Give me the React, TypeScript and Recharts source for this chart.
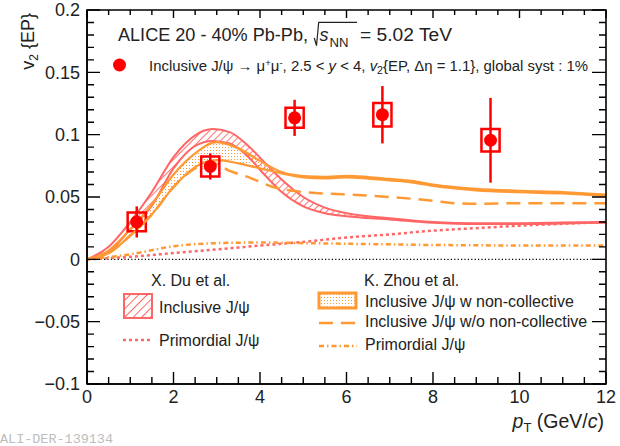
import React from 'react';
import {
  ComposedChart,
  Line,
  Area,
  Scatter,
  ErrorBar,
  XAxis,
  YAxis,
  ReferenceArea,
  ReferenceLine,
} from 'recharts';

const RED = '#ff6666';
const ORANGE = '#ff9933';
const POINT_RED = '#ff0000';
const AXIS = '#000000';
const FONT = '"Liberation Sans", Arial, Helvetica, sans-serif';

// ALICE inclusive J/psi v2{EP}, 20-40%
const dataPt = [1.15, 2.85, 4.8, 6.83, 9.33];
const dataV2 = [0.03, 0.0745, 0.1135, 0.116, 0.0955];
const dataStat = [0.0125, 0.0105, 0.0145, 0.023, 0.034];
const dataSyst = [0.0075, 0.008, 0.008, 0.0095, 0.009];
const systHalfWidth = 0.21;

// X. Du et al., inclusive band
const duPt = [0, 0.5, 1, 1.5, 2, 2.5, 2.9, 3.3, 3.7, 4.1, 4.5, 5, 5.5, 6, 7, 8, 9, 10, 11, 12];
const duHi = [0, 0.01, 0.03, 0.054, 0.082, 0.0995, 0.1045, 0.102, 0.092, 0.078, 0.064, 0.05, 0.0415, 0.037, 0.033, 0.03, 0.029, 0.029, 0.0295, 0.03];
const duLo = [0, 0.006, 0.024, 0.043, 0.073, 0.091, 0.095, 0.093, 0.083, 0.068, 0.054, 0.0425, 0.037, 0.0345, 0.032, 0.0293, 0.0283, 0.0283, 0.0288, 0.0293];

// primordial curves (both models)
const primPt = [0, 1, 2, 3, 4, 5, 6, 7, 8, 9, 10, 11, 12];
const duPrim = [0, 0.002, 0.005, 0.008, 0.011, 0.014, 0.0175, 0.02, 0.023, 0.025, 0.027, 0.0285, 0.03];
const zhouPrim = [0, 0.004, 0.0105, 0.013, 0.0135, 0.013, 0.0125, 0.012, 0.0115, 0.0113, 0.011, 0.011, 0.011];

// K. Zhou et al., w non-collective band
const zPt = [0, 0.5, 1, 1.5, 2, 2.5, 3, 3.5, 4, 4.5, 5, 5.5, 6, 6.5, 7, 7.5, 8, 8.5, 9, 10, 11, 12];
const zHi = [0, 0.007, 0.024, 0.044, 0.068, 0.085, 0.094, 0.089, 0.079, 0.07, 0.0668, 0.0662, 0.067, 0.066, 0.0645, 0.063, 0.06, 0.058, 0.0565, 0.055, 0.054, 0.052];
const zLo = [0, 0.005, 0.019, 0.036, 0.058, 0.074, 0.0795, 0.077, 0.073, 0.069, 0.0658, 0.065, 0.0658, 0.0648, 0.0633, 0.0618, 0.0588, 0.0568, 0.0553, 0.0538, 0.0528, 0.0508];

// K. Zhou et al., w/o non-collective
const dPt = [0, 0.5, 1, 1.5, 2, 2.5, 2.9, 3.3, 3.8, 4.3, 5, 6, 7, 8, 8.5, 9, 10, 12];
const dV2 = [0, 0.005, 0.019, 0.036, 0.058, 0.073, 0.077, 0.071, 0.065, 0.058, 0.054, 0.052, 0.05, 0.047, 0.045, 0.0445, 0.045, 0.045];

// axis ticks
const X_DOMAIN = [0, 12];
const Y_DOMAIN = [-0.1, 0.2];
const xMajor = [0, 2, 4, 6, 8, 10, 12];
const xMinor = Array.from({ length: 25 }, (_, i) => i * 0.5);
const yMajor = [-0.1, -0.05, 0, 0.05, 0.1, 0.15, 0.2];
const yMinor = Array.from({ length: 31 }, (_, i) => (i - 10) / 100);

// layout
const W = 620;
const H = 446;
const MARGIN = { top: 10, right: 14, bottom: 0, left: 0 };
const Y_AXIS_W = 87;
const X_AXIS_H = 62;
const PLOT_LEFT = MARGIN.left + Y_AXIS_W;
const PLOT_RIGHT = W - MARGIN.right;
const PLOT_TOP = MARGIN.top;
const PLOT_BOTTOM = H - MARGIN.bottom - X_AXIS_H;

const points = dataPt.map((pt, i) => ({ pt, v2: dataV2[i], stat: dataStat[i] }));
const duBand = duPt.map((pt, i) => ({ pt, range: [duLo[i], duHi[i]] }));
const zBand = zPt.map((pt, i) => ({ pt, range: [zLo[i], zHi[i]] }));
const zDash = dPt.map((pt, i) => ({ pt, v2: dV2[i] }));
const duPrimData = primPt.map((pt, i) => ({ pt, v2: duPrim[i] }));
const zPrimData = primPt.map((pt, i) => ({ pt, v2: zhouPrim[i] }));

const isMaj = (list: number[], t: number) => list.some((m) => Math.abs(m - t) < 1e-9);
const fmtY = (v: number) => (v < 0 ? '\u2212' + String(-v) : String(v));

// same linear map as the chart axes, for the frame tick marks
const xPix = (v: number) => PLOT_LEFT + ((v - X_DOMAIN[0]) / (X_DOMAIN[1] - X_DOMAIN[0])) * (PLOT_RIGHT - PLOT_LEFT);
const yPix = (v: number) => PLOT_BOTTOM - ((v - Y_DOMAIN[0]) / (Y_DOMAIN[1] - Y_DOMAIN[0])) * (PLOT_BOTTOM - PLOT_TOP);

const tickSegs: { x1: number; y1: number; x2: number; y2: number }[] = [];
yMinor.forEach((t) => {
  const maj = isMaj(yMajor, t);
  const y = yPix(t);
  tickSegs.push({ x1: PLOT_LEFT, y1: y, x2: PLOT_LEFT + (maj ? 13 : 7), y2: y });
  tickSegs.push({ x1: PLOT_RIGHT - (maj ? 14 : 7), y1: y, x2: PLOT_RIGHT, y2: y });
});
xMinor.forEach((t) => {
  const maj = isMaj(xMajor, t);
  const x = xPix(t);
  tickSegs.push({ x1: x, y1: PLOT_BOTTOM, x2: x, y2: PLOT_BOTTOM - (maj ? 12 : 7) });
  tickSegs.push({ x1: x, y1: PLOT_TOP, x2: x, y2: PLOT_TOP + (maj ? 8 : 5) });
});
const tickPath = tickSegs.map((s) => `M${s.x1} ${s.y1}L${s.x2} ${s.y2}`).join('');
const framePath = `M${PLOT_LEFT} ${PLOT_TOP}H${PLOT_RIGHT}V${PLOT_BOTTOM}H${PLOT_LEFT}Z`;

const Overlay = () => (
  <svg
    width={W}
    height={H}
    viewBox={`0 0 ${W} ${H}`}
    style={{ position: 'absolute', left: 0, top: 0, pointerEvents: 'none', fontFamily: FONT }}
  >
    <defs>
      <pattern id="lgHatch" patternUnits="userSpaceOnUse" width={6} height={6} patternTransform="rotate(45)">
        <line x1={0} y1={0} x2={0} y2={6} stroke={RED} strokeWidth={2} />
      </pattern>
      <pattern id="lgDots" patternUnits="userSpaceOnUse" width={3} height={3}>
        <rect x={0} y={0} width={1} height={1} fill={ORANGE} />
      </pattern>
    </defs>

    {/* header */}
    <text x={118} y={41} fontSize={17.5} fill="#222" textLength={190} lengthAdjust="spacingAndGlyphs">
      ALICE 20 - 40% Pb-Pb,
    </text>
    <path d="M314.3 38 L316.5 45.7 L318.7 22.3 L357 22.3" fill="none" stroke="#222" strokeWidth={1.2} />
    <text x={319.5} y={41} fontSize={18} fontStyle="italic" fill="#222">s</text>
    <text x={329.5} y={47} fontSize={12} fill="#222" textLength={19} lengthAdjust="spacingAndGlyphs">NN</text>
    <text x={360} y={41} fontSize={17.5} fill="#222" textLength={92} lengthAdjust="spacingAndGlyphs">= 5.02 TeV</text>

    <circle cx={119.5} cy={65} r={6.5} fill={POINT_RED} />
    <text x={149} y={70.5} fontSize={14} fill="#222" textLength={439} lengthAdjust="spacingAndGlyphs">
      Inclusive J/ψ → μ<tspan fontSize={9} dy={-5}>+</tspan>
      <tspan dy={5}>μ</tspan>
      <tspan fontSize={9} dy={-5}>-</tspan>
      <tspan dy={5}>, 2.5 &lt; </tspan>
      <tspan fontStyle="italic">y</tspan>
      <tspan> &lt; 4, </tspan>
      <tspan fontStyle="italic">v</tspan>
      <tspan fontSize={10} dy={3}>2</tspan>
      <tspan dy={-3}>{'{EP, Δη = 1.1}, global syst : 1%'}</tspan>
    </text>

    {/* axis titles */}
    <text transform="translate(34,13) rotate(-90)" textAnchor="end" fontSize={18} fill="#222">
      v<tspan fontSize={12} dy={4}>2</tspan>
      <tspan dy={-4}>{' {EP}'}</tspan>
    </text>
    <text x={604} y={428} textAnchor="end" fontSize={19.5} fill="#222">
      <tspan fontStyle="italic">p</tspan>
      <tspan fontSize={13} dy={4}>T</tspan>
      <tspan dy={-4}> (GeV/</tspan>
      <tspan fontStyle="italic">c</tspan>
      <tspan>)</tspan>
    </text>
    <text x={0} y={443} fontSize={13.4} fill="#bdbdbd" fontFamily='"Liberation Mono", "DejaVu Sans Mono", monospace' textLength={113} lengthAdjust="spacingAndGlyphs">
      ALI-DER-139134
    </text>

    {/* legend: X. Du et al. */}
    <text x={151} y={286} fontSize={16} fill="#222">X. Du et al.</text>
    <rect x={124} y={294} width={28} height={24} fill="url(#lgHatch)" stroke={RED} strokeWidth={2} />
    <text x={159} y={313} fontSize={16} fill="#222">Inclusive J/ψ</text>
    <line x1={123} y1={340} x2={153} y2={340} stroke={RED} strokeWidth={2.5} strokeDasharray="3 3" />
    <text x={159} y={346} fontSize={16} fill="#222">Primordial J/ψ</text>

    {/* legend: K. Zhou et al. */}
    <text x={364} y={286} fontSize={16} fill="#222">K. Zhou et al.</text>
    <rect x={319} y={293} width={37} height={15} fill="url(#lgDots)" stroke={ORANGE} strokeWidth={3} />
    <text x={365} y={306.5} fontSize={16} fill="#222">Inclusive J/ψ w non-collective</text>
    <line x1={319} y1={323} x2={357} y2={323} stroke={ORANGE} strokeWidth={2.5} strokeDasharray="14 8" />
    <text x={365} y={327} fontSize={16} fill="#222">Inclusive J/ψ w/o non-collective</text>
    <line x1={319} y1={346} x2={357} y2={346} stroke={ORANGE} strokeWidth={2.5} strokeDasharray="5 3 1.5 3" />
    <text x={365} y={350} fontSize={16} fill="#222">Primordial J/ψ</text>

    {/* ROOT style frame with inner ticks */}
    <path d={framePath} fill="none" stroke={AXIS} strokeWidth={1.6} />
    <path d={tickPath} fill="none" stroke={AXIS} strokeWidth={1.4} />
  </svg>
);

const App = () => {
  return (
    <div style={{ position: 'absolute', left: 0, top: 0, width: W, height: H, background: '#fff' }}>
      <ComposedChart width={W} height={H} margin={MARGIN} style={{ fontFamily: FONT }}>
        <defs>
          <pattern id="hatch" patternUnits="userSpaceOnUse" width={5} height={5} patternTransform="rotate(45)">
            <line x1={0} y1={0} x2={0} y2={5} stroke={RED} strokeWidth={1.8} />
          </pattern>
          <pattern id="dots" patternUnits="userSpaceOnUse" width={3} height={3}>
            <rect x={0} y={0} width={1} height={1} fill={ORANGE} />
          </pattern>
        </defs>

        <XAxis
          xAxisId="x"
          dataKey="pt"
          type="number"
          domain={X_DOMAIN}
          ticks={xMajor}
          interval={0}
          height={X_AXIS_H}
          tickLine={false}
          tickSize={0}
          tickMargin={6}
          axisLine={{ stroke: AXIS, strokeWidth: 1.5 }}
          tick={{ fill: '#222', fontSize: 18 }}
        />
        <YAxis
          yAxisId="y"
          type="number"
          domain={Y_DOMAIN}
          ticks={yMajor}
          interval={0}
          width={Y_AXIS_W}
          tickLine={false}
          tickSize={0}
          tickMargin={7}
          axisLine={{ stroke: AXIS, strokeWidth: 1.5 }}
          tickFormatter={fmtY}
          tick={{ fill: '#222', fontSize: 18 }}
        />

        <ReferenceLine xAxisId="x" yAxisId="y" y={0} stroke={AXIS} strokeWidth={1.2} strokeDasharray="1.2 2.2" />

        <Area
          xAxisId="x"
          yAxisId="y"
          data={duBand}
          dataKey="range"
          type="monotone"
          stroke={RED}
          strokeWidth={2}
          fill="url(#hatch)"
          fillOpacity={1}
          dot={false}
          activeDot={false}
          isAnimationActive={false}
        />
        <Area
          xAxisId="x"
          yAxisId="y"
          data={zBand}
          dataKey="range"
          type="monotone"
          stroke={ORANGE}
          strokeWidth={2.2}
          fill="url(#dots)"
          fillOpacity={1}
          dot={false}
          activeDot={false}
          isAnimationActive={false}
        />
        <Line
          xAxisId="x"
          yAxisId="y"
          data={zDash}
          dataKey="v2"
          type="monotone"
          stroke={ORANGE}
          strokeWidth={2.5}
          strokeDasharray="14 8"
          dot={false}
          activeDot={false}
          isAnimationActive={false}
        />
        <Line
          xAxisId="x"
          yAxisId="y"
          data={duPrimData}
          dataKey="v2"
          type="monotone"
          stroke={RED}
          strokeWidth={2.5}
          strokeDasharray="3 3"
          dot={false}
          activeDot={false}
          isAnimationActive={false}
        />
        <Line
          xAxisId="x"
          yAxisId="y"
          data={zPrimData}
          dataKey="v2"
          type="monotone"
          stroke={ORANGE}
          strokeWidth={2.5}
          strokeDasharray="5 3 1.5 3"
          dot={false}
          activeDot={false}
          isAnimationActive={false}
        />

        {dataPt.map((pt, i) => (
          <ReferenceArea
            key={pt}
            xAxisId="x"
            yAxisId="y"
            x1={pt - systHalfWidth}
            x2={pt + systHalfWidth}
            y1={dataV2[i] - dataSyst[i]}
            y2={dataV2[i] + dataSyst[i]}
            fill="none"
            stroke={POINT_RED}
            strokeWidth={2.5}
            ifOverflow="visible"
          />
        ))}

        <Scatter
          xAxisId="x"
          yAxisId="y"
          data={points}
          dataKey="v2"
          isAnimationActive={false}
          shape={(p: any) => <circle cx={p.cx} cy={p.cy} r={6.5} fill={POINT_RED} />}
        >
          <ErrorBar dataKey="stat" direction="y" width={0} stroke={POINT_RED} strokeWidth={2.5} isAnimationActive={false} />
        </Scatter>
      </ComposedChart>
      <Overlay />
    </div>
  );
};

export default App;
